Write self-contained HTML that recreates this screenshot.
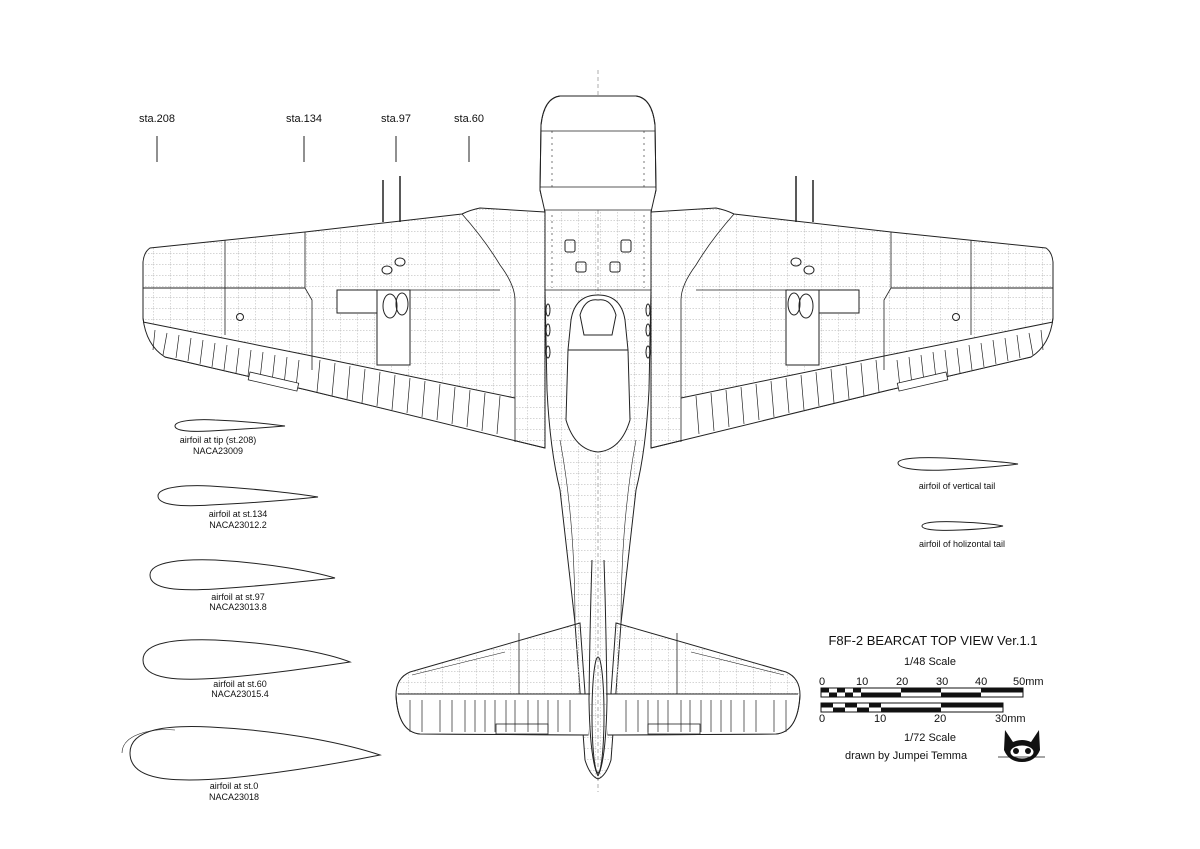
<!DOCTYPE html>
<html><head><meta charset="utf-8"><style>
html,body{margin:0;padding:0;background:#fff;}
svg{display:block;font-family:"Liberation Sans","Noto Sans CJK JP",sans-serif;}
</style></head><body>
<svg width="1200" height="849" viewBox="0 0 1200 849" xmlns="http://www.w3.org/2000/svg">
<defs>
<pattern id="grid" width="17" height="11" patternUnits="userSpaceOnUse">
<path d="M0 0.5H17M0.5 0V11" stroke="#c8c8c8" stroke-width="0.7" stroke-dasharray="1.5,1.5" fill="none"/>
</pattern>
<g id="half" fill="none" stroke="#222" stroke-width="1">
 <!-- wing -->
 <path d="M545 212 L480 208 Q470 210 462 214 L305 232 L150 248 Q144 252 143 262 L143 318 Q146 345 165 357 L307 390 L545 448 Z" fill="url(#grid)"/>
 <path d="M143 322 L307 355 L515 398 L515 442 L307 390 L165 357 Q146 345 143 322Z" fill="#fff" stroke="none"/>
 <path d="M143 262 L143 318 Q146 345 165 357 L307 390 L545 448"/>
 <path d="M143 322 L307 355 L515 398" />
 <path d="M143 288 L305 288" />
 <path d="M225 240 L225 335" stroke-width="0.8"/>
 <path d="M305 232 L305 288 L312 300 L312 370" stroke-width="0.8"/>
 <path d="M462 214 Q485 240 500 265 Q515 285 515 300 L515 442" stroke-width="0.8"/>
 <path d="M340 290 L500 290" stroke-width="0.8"/>
 <rect x="337" y="290" width="40" height="23" fill="#fff"/>
 <rect x="377" y="290" width="33" height="75" fill="#fff"/>
 <ellipse cx="390" cy="306" rx="7" ry="12"/><ellipse cx="402" cy="304" rx="6" ry="11"/>
 <ellipse cx="240" cy="317" rx="3.5" ry="3.5"/>
 <ellipse cx="400" cy="262" rx="5" ry="4"/><ellipse cx="387" cy="270" rx="5" ry="4"/>
 <g stroke-width="0.7">
  <path d="M155 330L153 350M167 333L163 355M179 335L176 358M191 338L188 361M203 340L200 364M215 343L212 367M227 345L224 370M239 348L236 373M251 350L248 376M263 352L260 379M275 355L272 382M287 357L284 385M299 360L296 387"/>
  <path d="M320 360L317 392M335 363L332 396M350 366L347 399M365 369L362 403M380 372L377 406M395 375L392 410M410 378L407 413M425 381L422 417M440 384L437 420M455 387L452 424M470 390L467 427M485 393L482 431M500 396L497 434"/>
 </g>
 <rect x="250" y="372" width="50" height="8" transform="rotate(13 250 372)" stroke-width="0.8" fill="#fff"/>
 <path d="M383 180V222M400 176V222" stroke-width="1.5"/>
 <!-- fuselage -->
 <path d="M598 96 L560 96 Q544 98 541 125 L540 190 L545 212 L545 290 L547 390 Q550 450 560 490 L575 623 L585 760 Q590 776 598 779" fill="url(#grid)"/>
 <path d="M598 97 L560 97 Q545 99 542 125 L541 210 L598 210Z" fill="#fff" stroke="none"/>
 <path d="M598 96 L560 96 Q544 98 541 125 L540 190 L545 212"/>
 <path d="M541 131 L598 131 M540 187 L598 187 M545 210 L598 210 M545 290 L598 290" stroke-width="0.8"/>
 <path d="M552 131V187M552 215V288" stroke-width="0.6" stroke-dasharray="2,4"/>
 <rect x="565" y="240" width="10" height="12" rx="2"/><rect x="576" y="262" width="10" height="10" rx="2"/>
 <path d="M598 295 Q575 295 571 320 L568 350 L566 420 Q575 450 598 452" fill="#fff"/>
 <path d="M568 350 L598 350" />
 <path d="M598 300 Q585 298 580 315 L584 335 L598 335" />
 <ellipse cx="548" cy="310" rx="2" ry="6"/><ellipse cx="548" cy="330" rx="2" ry="6"/><ellipse cx="548" cy="352" rx="2" ry="6"/>
 <path d="M560 440 Q575 520 575 623"  stroke-width="0.6"/>
 <!-- horizontal tail -->
 <path d="M580 623 L410 672 Q396 678 396 695 Q398 732 420 734 L588 735 Z" fill="url(#grid)"/>
 <path d="M397 694 L590 694 L588 735 L420 734 Q398 732 397 694Z" fill="#fff" stroke="none"/>
 <path d="M396 695 Q398 732 420 734 L588 735"/>
 <path d="M398 694 L590 694"/>
 <path d="M412 675 L505 652" stroke-width="0.6"/>
 <path d="M519 633 L519 694" stroke-width="0.8"/>
 <g stroke-width="0.7"><path d="M410 700V732M422 700V732M440 700V732M452 700V732M465 700V732M475 700V732M485 700V732M495 700V732M506 700V732M515 700V732M528 700V732M538 700V732M548 700V732M558 700V732M570 700V732"/></g>
 <rect x="496" y="724" width="52" height="10" stroke-width="0.8"/>
 <path d="M592 560 Q590 620 589 700 Q590 760 598 776"/>
</g>
</defs>
<path d="M598 70V792" stroke="#999" stroke-width="0.8" stroke-dasharray="4,3"/>
<use href="#half"/>
<use href="#half" transform="translate(1196 0) scale(-1 1)"/>
<ellipse cx="598" cy="715" rx="6" ry="58" fill="none" stroke="#222"/>

<g font-size="11" fill="#111" text-anchor="middle">
<text x="157" y="122">sta.208</text><text x="304" y="122">sta.134</text>
<text x="396" y="122">sta.97</text><text x="469" y="122">sta.60</text>
</g>
<path d="M157 136V162M304 136V162M396 136V162M469 136V162" stroke="#222"/>

<g fill="none" stroke="#222" stroke-width="1">
<path d="M175 426 C175 420 200 419 215 420 C245 421 270 424 285 426 C260 428 230 430 210 431 C190 432 175 431 175 426Z"/>
<path d="M158 496 C158 486 190 485 210 486 C260 489 300 494 318 497 C290 500 250 503 210 505 C180 507 158 505 158 496Z"/>
<path d="M150 575 C150 561 185 559 215 560 C270 563 315 572 335 578 C300 582 260 586 215 589 C180 591 150 590 150 575Z"/>
<path d="M143 660 C143 641 180 639 215 640 C280 643 330 654 350 662 C310 668 270 674 220 678 C180 681 143 680 143 660Z"/>
<path d="M130 753 C130 728 170 725 210 727 C290 731 350 745 380 755 C340 763 290 772 230 778 C170 783 130 780 130 753Z"/>
<path d="M122 753 C122 735 150 728 175 730" stroke-width="0.6"/>
<path d="M898 463 C898 458 920 457 945 458 C980 460 1005 462 1018 464 C1005 466 980 468 945 470 C920 471 898 469 898 463Z"/>
<path d="M922 526 C922 522 940 521 960 522 C985 523 998 525 1003 526 C998 527 985 529 960 530 C940 531 922 530 922 526Z"/>
</g>
<g font-size="9" fill="#111" text-anchor="middle">
<text x="218" y="443">airfoil at tip (st.208)</text><text x="218" y="454">NACA23009</text>
<text x="238" y="517">airfoil at st.134</text><text x="238" y="528">NACA23012.2</text>
<text x="238" y="600">airfoil at st.97</text><text x="238" y="610">NACA23013.8</text>
<text x="240" y="687">airfoil at st.60</text><text x="240" y="697">NACA23015.4</text>
<text x="234" y="789">airfoil at st.0</text><text x="234" y="800">NACA23018</text>
<text x="957" y="489">airfoil of vertical tail</text>
<text x="962" y="547">airfoil of holizontal tail</text>
</g>

<g fill="#111" text-anchor="middle">
<text x="933" y="645" font-size="13">F8F-2 BEARCAT TOP VIEW Ver.1.1</text>
<text x="930" y="665" font-size="11">1/48 Scale</text>
<text x="930" y="741" font-size="11">1/72 Scale</text>
</g>
<g fill="#111" font-size="11">
<text x="819" y="685">0</text><text x="856" y="685">10</text><text x="896" y="685">20</text><text x="936" y="685">30</text><text x="975" y="685">40</text><text x="1013" y="685">50mm</text>
<text x="819" y="722">0</text><text x="874" y="722">10</text><text x="934" y="722">20</text><text x="995" y="722">30mm</text>
<text x="845" y="759">drawn by  Jumpei Temma</text>
</g>
<g stroke="#111" stroke-width="1">
<rect x="821" y="688" width="202" height="9" fill="#fff"/>
<g fill="#111" stroke="none">
<rect x="821" y="688" width="8" height="4.5"/><rect x="829" y="692.5" width="8" height="4.5"/><rect x="837" y="688" width="8" height="4.5"/><rect x="845" y="692.5" width="8" height="4.5"/><rect x="853" y="688" width="8" height="4.5"/>
<rect x="861" y="692.5" width="40" height="4.5"/><rect x="901" y="688" width="40" height="4.5"/><rect x="941" y="692.5" width="40" height="4.5"/><rect x="981" y="688" width="42" height="4.5"/>
</g>
<rect x="821" y="703" width="182" height="9" fill="#fff"/>
<g fill="#111" stroke="none">
<rect x="821" y="703" width="12" height="4.5"/><rect x="833" y="707.5" width="12" height="4.5"/><rect x="845" y="703" width="12" height="4.5"/><rect x="857" y="707.5" width="12" height="4.5"/><rect x="869" y="703" width="12" height="4.5"/>
<rect x="881" y="707.5" width="60" height="4.5"/><rect x="941" y="703" width="62" height="4.5"/>
</g>
</g>
<g>
<path d="M1005 730 L1013 742 Q1022 738 1031 742 L1039 730 L1040 750 Q1035 762 1022 762 Q1009 762 1004 750 Z" fill="#111"/>
<ellipse cx="1022" cy="752" rx="12" ry="7" fill="#fff" stroke="#111"/>
<circle cx="1016" cy="751" r="3" fill="#111"/><circle cx="1028" cy="751" r="3" fill="#111"/>
<path d="M998 757H1045" stroke="#111" stroke-width="0.8"/>
</g>
</svg>
</body></html>
